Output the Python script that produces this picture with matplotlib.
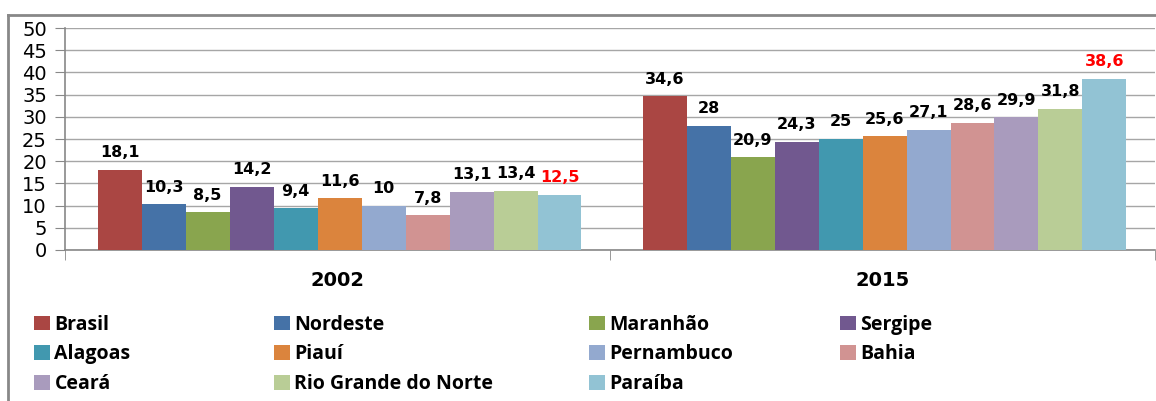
import numpy as np
import matplotlib.pyplot as plt
from matplotlib.patches import Patch
from matplotlib.lines import Line2D

# Data
years = ['2002', '2015']
regions = ['Brasil', 'Nordeste', 'Maranhão', 'Sergipe', 'Alagoas', 'Piauí',
           'Pernambuco', 'Bahia', 'Ceará', 'Rio Grande do Norte', 'Paraíba']
values_2002 = [18.1, 10.3, 8.5, 14.2, 9.4, 11.6, 10, 7.8, 13.1, 13.4, 12.5]
values_2015 = [34.6, 28, 20.9, 24.3, 25, 25.6, 27.1, 28.6, 29.9, 31.8, 38.6]
colors = ['#AA4643', '#4572A7', '#89A54E', '#71588F', '#4198AF', '#DB843D',
          '#93A9CF', '#D19392', '#A99BBD', '#B9CD96', '#92C3D4']

fig = plt.figure(figsize=(11.56, 4.01), dpi=100)
ax = fig.add_axes([0.0562, 0.3766, 0.9428, 0.5534])

x = np.arange(len(years))
n = len(regions)
width = 0.0807
for i, name in enumerate(regions):
    vals = [values_2002[i], values_2015[i]]
    pos = x + (i - (n - 1) / 2) * width + 0.004
    ax.bar(pos, vals, width, color=colors[i], edgecolor='none', zorder=3)
    label_color = 'red' if name == 'Paraíba' else 'black'
    for xp, v in zip(pos, vals):
        txt = f'{v:g}'.replace('.', ',')
        ax.annotate(txt, (xp, v), xytext=(0, 7), textcoords='offset points',
                    ha='center', va='bottom', fontsize=11.5, fontweight='bold',
                    color=label_color, family='DejaVu Sans')

ax.set_xlim(-0.5, 1.5)
ax.set_ylim(0, 50)
ax.set_yticks(np.arange(0, 51, 5))
ax.yaxis.grid(True, color='#a6a6a6', linewidth=1, zorder=0)
ax.set_axisbelow(True)

ax.set_xticks(x)
ax.set_xticklabels(years, fontsize=14, fontweight='bold', family='DejaVu Sans')
ax.tick_params(axis='x', which='major', length=0, pad=15)
ax.set_xticks([-0.5, 0.5, 1.5], minor=True)
ax.tick_params(axis='x', which='minor', length=7, color='#888888', direction='out')
ax.tick_params(axis='y', length=7, color='#888888', labelsize=14, pad=6)
for lab in ax.get_yticklabels():
    lab.set_family('DejaVu Sans')

for side in ['top', 'right']:
    ax.spines[side].set_visible(False)
for side in ['left', 'bottom']:
    ax.spines[side].set_color('#888888')
    ax.spines[side].set_linewidth(1.2)

# Legend: four columns, row-wise order like the original
col_x = [34, 274, 589, 840]
W, H = 1156, 401
fs = 14
pad_px = 0.4 * fs * 100 / 72
for c in range(4):
    idx = list(range(c, n, 4))
    handles = [Patch(facecolor=colors[i], edgecolor='none') for i in idx]
    labels = [regions[i] for i in idx]
    fig.legend(handles, labels, loc='upper left',
               bbox_to_anchor=((col_x[c] - pad_px) / W, 1 - 307 / H),
               frameon=False, borderaxespad=0, handlelength=0.8, handleheight=0.8,
               handletextpad=0.25, labelspacing=0.5,
               prop={'family': 'Open Sans', 'weight': 'bold', 'size': fs})

# Outer frame (left and top edges visible)
fig.add_artist(Line2D([8 / W, 8 / W], [0, 1 - 15 / H], transform=fig.transFigure,
                      color='#888888', linewidth=2))
fig.add_artist(Line2D([8 / W, 1], [1 - 15 / H, 1 - 15 / H], transform=fig.transFigure,
                      color='#888888', linewidth=2))

fig.savefig('out.png', dpi=100)
